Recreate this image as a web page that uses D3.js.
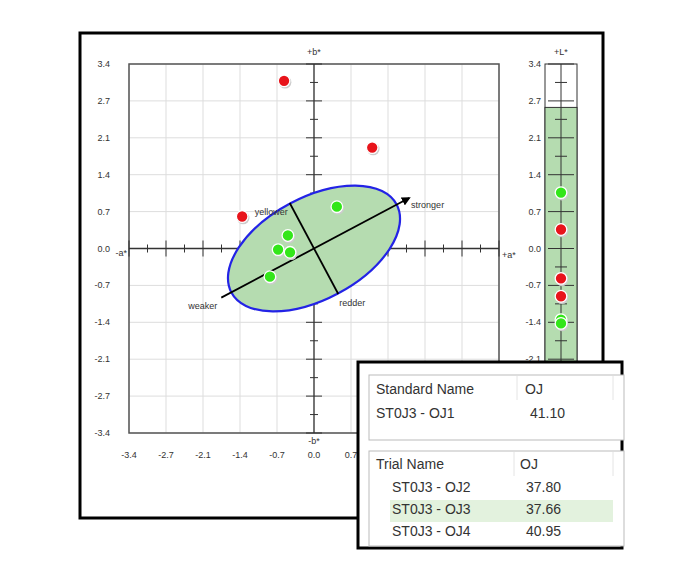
<!DOCTYPE html><html><head><meta charset="utf-8"><script src="https://cdn.jsdelivr.net/npm/d3@7"></script>
<style>body{margin:0;background:#fff}svg{font-family:"Liberation Sans",Arial,sans-serif}</style></head><body><svg id="c" width="681" height="573"></svg><script>
const tickVals=[-3.4,-2.72,-2.04,-1.36,-0.68,0,0.68,1.36,2.04,2.72,3.4];
const tickLabels=["-3.4","-2.7","-2.1","-1.4","-0.7","0.0","0.7","1.4","2.1","2.7","3.4"];
const redAB=[[-0.55,3.09],[1.07,1.86],[-1.32,0.59]];
const greenAB=[[0.42,0.77],[-0.48,0.24],[-0.66,-0.02],[-0.44,-0.07],[-0.81,-0.52]];
const redL=[0.35,-0.55,-0.88];
const greenL=[1.03,-1.31,-1.38];
const fillTopL=2.6;
const ellipse={ca:0,cb:0,rx:1.72,ry:0.94,angle:28};
const dirLabels=["stronger","weaker","yellower","redder"];
const stdRows=[["ST0J3 - OJ1","41.10"]];
const trialRows=[["ST0J3 - OJ2","37.80"],["ST0J3 - OJ3","37.66"],["ST0J3  - OJ4","40.95"]];

const svg=d3.select("#c");
const x=d3.scaleLinear().domain([-3.4,3.4]).range([129,499]);
const y=d3.scaleLinear().domain([-3.4,3.4]).range([433,64]);
svg.append("rect").attr("x",80).attr("y",33).attr("width",523).attr("height",485).attr("fill","#fff").attr("stroke","#000").attr("stroke-width",3);
const g=svg.append("g");
tickVals.forEach(v=>{
 g.append("line").attr("x1",x(v)).attr("x2",x(v)).attr("y1",y(3.4)).attr("y2",y(-3.4)).attr("stroke","#ddd");
 g.append("line").attr("y1",y(v)).attr("y2",y(v)).attr("x1",x(-3.4)).attr("x2",x(3.4)).attr("stroke","#ddd");
});
g.append("rect").attr("x",x(-3.4)).attr("y",y(3.4)).attr("width",x(3.4)-x(-3.4)).attr("height",y(-3.4)-y(3.4)).attr("fill","none").attr("stroke","#555").attr("stroke-width",1.5);
tickVals.forEach((v,i)=>{
 g.append("text").attr("x",x(-3.4)-19).attr("y",y(v)+3).attr("text-anchor","end").attr("font-size",9).attr("fill","#333").text(tickLabels[i]);
 if(v<1) g.append("text").attr("x",x(v)).attr("y",458).attr("text-anchor","middle").attr("font-size",9).attr("fill","#333").text(tickLabels[i]);
});
g.append("line").attr("x1",x(-3.4)).attr("x2",x(3.4)).attr("y1",y(0)).attr("y2",y(0)).attr("stroke","#333").attr("stroke-width",1.3);
g.append("line").attr("y1",y(-3.4)).attr("y2",y(3.4)).attr("x1",x(0)).attr("x2",x(0)).attr("stroke","#333").attr("stroke-width",1.3);
d3.range(-10,11).forEach(k=>{const v=k*0.34;if(k===0)return;const len=k%2===0?8:4;
 g.append("line").attr("x1",x(v)).attr("x2",x(v)).attr("y1",y(0)-len).attr("y2",y(0)+len).attr("stroke","#333");
 g.append("line").attr("y1",y(v)).attr("y2",y(v)).attr("x1",x(0)-len).attr("x2",x(0)+len).attr("stroke","#333");
});
const lab=(t,px,py,a)=>g.append("text").attr("x",px).attr("y",py).attr("text-anchor",a||"middle").attr("font-size",9).attr("fill","#333").text(t);
lab("+b*",x(0),y(3.4)-9);lab("-b*",x(0),y(-3.4)+11);lab("-a*",x(-3.4)-2,y(0)+7,"end");lab("+a*",x(3.4)+3,y(0)+9,"start");
const sx=x(1)-x(0),sy=y(0)-y(1);
g.append("ellipse").attr("cx",x(ellipse.ca)).attr("cy",y(ellipse.cb)).attr("rx",ellipse.rx*sx).attr("ry",ellipse.ry*sy)
 .attr("transform",`rotate(${-ellipse.angle},${x(ellipse.ca)},${y(ellipse.cb)})`).attr("fill","#b5dcb0").attr("stroke","#2323e6").attr("stroke-width",2.2);
const th=ellipse.angle*Math.PI/180,c=Math.cos(th),s=Math.sin(th);
const pt=(u,w)=>[x(ellipse.ca+u*c-w*s),y(ellipse.cb+u*s+w*c)];
svg.append("defs").append("marker").attr("id","ar").attr("viewBox","0 0 10 10").attr("refX",8).attr("refY",5).attr("markerWidth",5).attr("markerHeight",5).attr("orient","auto").append("path").attr("d","M0,0L10,5L0,10z").attr("fill","#000");
let p1=pt(-1.93,0),p2=pt(1.98,0);
g.append("line").attr("x1",p1[0]).attr("y1",p1[1]).attr("x2",p2[0]).attr("y2",p2[1]).attr("stroke","#000").attr("stroke-width",1.8).attr("marker-end","url(#ar)");
let q1=pt(0,0.95),q2=pt(0,-0.95);
g.append("line").attr("x1",q1[0]).attr("y1",q1[1]).attr("x2",q2[0]).attr("y2",q2[1]).attr("stroke","#000").attr("stroke-width",1.8);
lab(dirLabels[0],p2[0]+2,p2[1]+10,"start");lab(dirLabels[1],p1[0]-4,p1[1]+11,"end");
lab(dirLabels[2],q1[0]-2,q1[1]+12,"end");lab(dirLabels[3],q2[0]+1,q2[1]+12,"start");
const dot=(px,py,col)=>{g.append("circle").attr("cx",px+1).attr("cy",py+1.5).attr("r",6.3).attr("fill","#ccc");
 g.append("circle").attr("cx",px).attr("cy",py).attr("r",5.8).attr("fill",col).attr("stroke","#fff").attr("stroke-width",1.3);};
redAB.forEach(d=>dot(x(d[0]),y(d[1]),"#e8141b"));
greenAB.forEach(d=>dot(x(d[0]),y(d[1]),"#33e61a"));
const bx0=545,bx1=577,bc=561;
g.append("rect").attr("x",bx0).attr("y",y(3.4)).attr("width",bx1-bx0).attr("height",y(-3.4)-y(3.4)).attr("fill","#fff").attr("stroke","#333");
g.append("rect").attr("x",bx0).attr("y",y(fillTopL)).attr("width",bx1-bx0).attr("height",y(-3.4)-y(fillTopL)).attr("fill","#b5dcb0").attr("stroke","#333");
g.append("line").attr("x1",bc).attr("x2",bc).attr("y1",y(3.4)).attr("y2",y(-3.4)).attr("stroke","#333");
d3.range(-10,11).forEach(k=>{const v=k*0.34;const half=k%2===0?13:6;
 g.append("line").attr("x1",bc-half).attr("x2",bc+half).attr("y1",y(v)).attr("y2",y(v)).attr("stroke","#333");});
tickVals.forEach((v,i)=>{if(y(v)<370) g.append("text").attr("x",bx0-4).attr("y",y(v)+3).attr("text-anchor","end").attr("font-size",9).attr("fill","#333").text(tickLabels[i]);});
lab("+L*",bc,y(3.4)-9);
redL.forEach(v=>dot(bc,y(v),"#e8141b"));
greenL.forEach(v=>dot(bc,y(v),"#33e61a"));
const ins=svg.append("g");
ins.append("rect").attr("x",358).attr("y",362).attr("width",264).attr("height",186).attr("fill","#fff").attr("stroke","#000").attr("stroke-width",3);
ins.append("rect").attr("x",369).attr("y",375).attr("width",255).attr("height",65).attr("fill","#fff").attr("stroke","#bbb");
ins.append("rect").attr("x",369).attr("y",451).attr("width",255).attr("height",95).attr("fill","#fff").attr("stroke","#bbb");
ins.append("line").attr("x1",517).attr("x2",517).attr("y1",376).attr("y2",400).attr("stroke","#e4e4e4");
ins.append("line").attr("x1",514).attr("x2",514).attr("y1",452).attr("y2",476).attr("stroke","#e4e4e4");
ins.append("line").attr("x1",613).attr("x2",613).attr("y1",376).attr("y2",400).attr("stroke","#e4e4e4");
ins.append("line").attr("x1",613).attr("x2",613).attr("y1",452).attr("y2",476).attr("stroke","#e4e4e4");
ins.append("rect").attr("x",390).attr("y",500).attr("width",223).attr("height",22).attr("fill","#e3f2de");
const t=(s,px,py)=>ins.append("text").attr("x",px).attr("y",py).attr("font-size",14).attr("fill","#333").text(s);
t("Standard Name",376,394);t("OJ",525,394);
stdRows.forEach((r,i)=>{t(r[0],376,418+i*22);t(r[1],530,418+i*22);});
t("Trial Name",376,469);t("OJ",520,469);
trialRows.forEach((r,i)=>{t(r[0],392,492+i*22);t(r[1],526,492+i*22);});
</script></body></html>
